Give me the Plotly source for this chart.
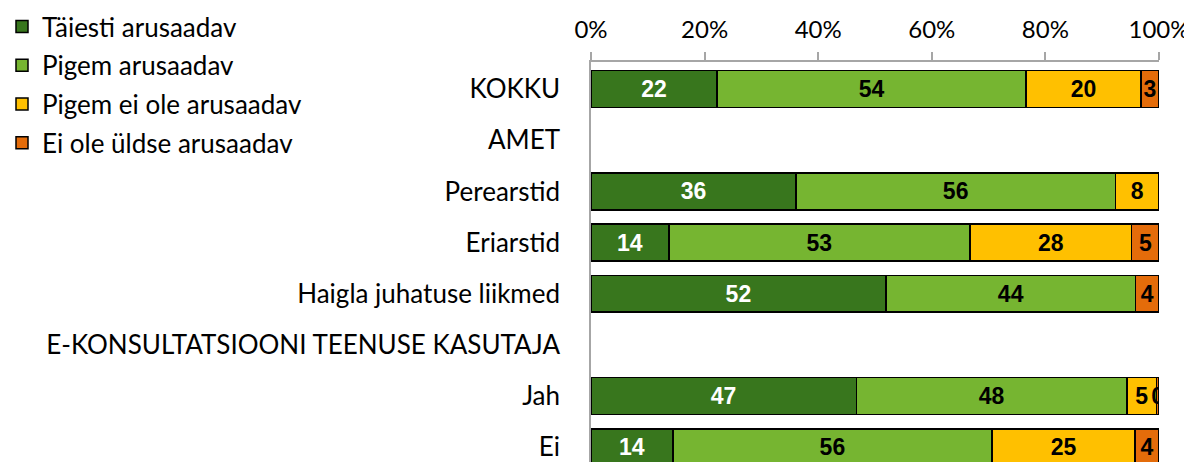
import plotly.graph_objects as go

categories = ["KOKKU", "AMET", "Perearstid", "Eriarstid", "Haigla juhatuse liikmed",
              "E-KONSULTATSIOONI TEENUSE KASUTAJA", "Jah", "Ei"]
series_names = ["Täiesti arusaadav", "Pigem arusaadav", "Pigem ei ole arusaadav", "Ei ole üldse arusaadav"]
taiesti = [22.2, None, 36.1, 13.7, 51.9, None, 46.7, 14.4]
pigem = [54.4, None, 56.2, 53.0, 44.0, None, 47.7, 56.2]
pigem_ei = [20.2, None, 7.7, 28.5, 0, None, 5.15, 25.2]
ei_ole = [3.2, None, 0, 4.8, 4.1, None, 0.45, 4.2]
x_tick_vals = [0, 20, 40, 60, 80, 100]
x_tick_text = ["0%", "20%", "40%", "60%", "80%", "100%"]

series = [taiesti, pigem, pigem_ei, ei_ole]
colors = ["#38761D", "#76B531", "#FFC000", "#E46C0A"]
text_colors = ["white", "black", "black", "black"]

LABEL_FONT = "Lato, Carlito, Calibri, sans-serif"
BAR_FONT = "'Liberation Sans', Arial, sans-serif"

# page body has an 8px default margin, so the figure is sized to fill the rest
FIG_W, FIG_H = 1184, 454
M_L, M_R, M_T, M_B = 583, 33, 54, 0
PLOT_W = FIG_W - M_L - M_R
PLOT_H = FIG_H - M_T - M_B

fig = go.Figure()
for name, vals, col, tcol in zip(series_names, series, colors, text_colors):
    texts = ["" if (v is None or v == 0) else f"{v:.0f}" for v in vals]
    fig.add_trace(go.Bar(
        name=name, y=categories, x=vals, orientation="h",
        marker=dict(color=col, line=dict(color="black", width=1.5)),
        text=texts, textposition="inside", insidetextanchor="middle",
        constraintext="none", textangle=0,
        textfont=dict(family=BAR_FONT, size=23, color=tcol, weight="bold"),
        legendgroup=name, hoverinfo="skip",
    ))

fig.update_layout(
    width=FIG_W, height=FIG_H,
    barmode="stack", bargap=0.28,
    plot_bgcolor="white", paper_bgcolor="white",
    margin=dict(l=M_L, r=M_R, t=M_T, b=M_B, autoexpand=False),
    font=dict(family=LABEL_FONT, size=26, color="black"),
    legend=dict(
        xref="paper", yref="paper",
        x=(-6 - M_L) / PLOT_W, y=1 + (M_T + 5) / PLOT_H,
        xanchor="left", yanchor="top",
        font=dict(family=LABEL_FONT, size=26, color="black"),
        traceorder="grouped", tracegroupgap=2,
        bgcolor="rgba(0,0,0,0)",
    ),
    xaxis=dict(
        side="top", range=[0, 100], tickvals=x_tick_vals, ticktext=x_tick_text,
        ticks="outside", ticklen=8, tickcolor="#a6a6a6", tickwidth=1.5,
        showline=True, linecolor="#a6a6a6", linewidth=1.5,
        showgrid=False, zeroline=False, ticklabelstandoff=5, automargin=False,
        tickfont=dict(family=LABEL_FONT, size=24),
    ),
    yaxis=dict(
        type="category", categoryorder="array", categoryarray=categories,
        range=[7.29, -0.53], showline=True, linecolor="#a6a6a6", linewidth=1.5,
        showgrid=False, zeroline=False, ticks="", ticklabelstandoff=24, automargin=False,
        tickfont=dict(family=LABEL_FONT, size=26),
    ),
)

fig.write_html("out.html")
